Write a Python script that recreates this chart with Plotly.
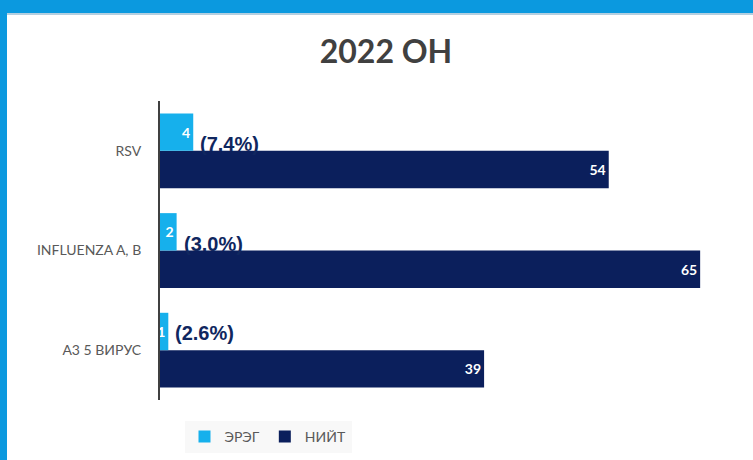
import plotly.graph_objects as go

# ---- data ----
categories = ["RSV", "INFLUENZA A, B", "А3 5 ВИРУС"]
erg_values = [4, 2, 1]          # ЭРЭГ
total_values = [54, 65, 39]     # НИЙТ
pct_labels = ["(7.4%)", "(3.0%)", "(2.6%)"]
series_names = ["ЭРЭГ", "НИЙТ"]
title_text = "2022 ОН"

# ---- style ----
C_LIGHT = "#16b0ec"
C_NAVY = "#0b1f5c"
C_FRAME = "#0b99df"
pct_yshift = [7, 7, 17]

W, H = 753, 460
ML, MR, MT, MB = 160, 11, 101, 60
PW, PH = W - ML - MR, H - MT - MB

fig = go.Figure()
fig.add_trace(go.Bar(
    y=categories, x=total_values, orientation="h", name=series_names[1],
    marker=dict(color=C_NAVY, line=dict(width=0)),
    text=[str(v) for v in total_values], textposition="inside",
    insidetextanchor="end", constraintext="none",
    textfont=dict(family="Lato", size=14, color="white", weight="bold"),
    legendrank=2, hoverinfo="skip",
))
fig.add_trace(go.Bar(
    y=categories, x=erg_values, orientation="h", name=series_names[0],
    marker=dict(color=C_LIGHT, line=dict(width=0)),
    text=[str(v) for v in erg_values], textposition="inside",
    insidetextanchor="end", constraintext="none",
    textfont=dict(family="Lato", size=14, color="white", weight="bold"),
    legendrank=1, hoverinfo="skip",
))

for c, v, lab, ys in zip(categories, erg_values, pct_labels, pct_yshift):
    fig.add_annotation(
        x=v, y=c, text=f"<b>{lab}</b>", showarrow=False,
        xanchor="left", yanchor="middle", xshift=5, yshift=ys,
        font=dict(family="Liberation Sans", size=20, color="#10275f"),
    )

# blue frame (top band and left band)
def px_x(p):
    return (p - ML) / PW

def px_y(p):
    return (H - MB - p) / PH

shapes = [
    dict(type="rect", xref="paper", yref="paper", x0=px_x(-5), x1=px_x(W + 5),
         y0=px_y(13), y1=px_y(-5), fillcolor=C_FRAME, line=dict(width=0), layer="above"),
    dict(type="line", xref="paper", yref="paper", x0=px_x(7), x1=px_x(W + 5),
         y0=px_y(14), y1=px_y(14), line=dict(color="#b4cfe0", width=2)),
    dict(type="rect", xref="paper", yref="paper", x0=px_x(-5), x1=px_x(7),
         y0=px_y(H + 5), y1=px_y(-5), fillcolor=C_FRAME, line=dict(width=0), layer="above"),
]

fig.update_layout(
    width=W, height=H,
    margin=dict(l=ML, r=MR, t=MT, b=MB),
    paper_bgcolor="white", plot_bgcolor="white",
    barmode="group", bargap=0.25, bargroupgap=0,
    uniformtext=dict(minsize=14, mode="show"),
    title=dict(text=f"<b>{title_text}</b>", x=386 / W, xref="container", xanchor="center",
               y=1 - 52 / H, yref="container", yanchor="middle",
               font=dict(family="Lato", size=32, color="#404040")),
    xaxis=dict(range=[0, PW / 8.31], visible=False, fixedrange=True),
    yaxis=dict(categoryorder="array", categoryarray=categories[::-1],
               showline=True, linecolor="#404040", linewidth=2,
               ticks="", ticklabelstandoff=14, showgrid=False, fixedrange=True,
               tickfont=dict(family="Lato", size=14, color="#595959")),
    showlegend=True,
    legend=dict(orientation="h", xref="container", yref="container",
                x=268 / W, y=1 - 437 / H, xanchor="center", yanchor="middle",
                bgcolor="#f8f8f8", font=dict(family="Lato", size=14, color="#595959"),
                itemwidth=30, traceorder="normal"),
    shapes=shapes,
)

fig.write_html(
    "out.html",
    config={"displayModeBar": False},
    post_script="document.body.style.margin='0';document.body.style.padding='0';"
                "document.documentElement.style.overflow='hidden';",
)
